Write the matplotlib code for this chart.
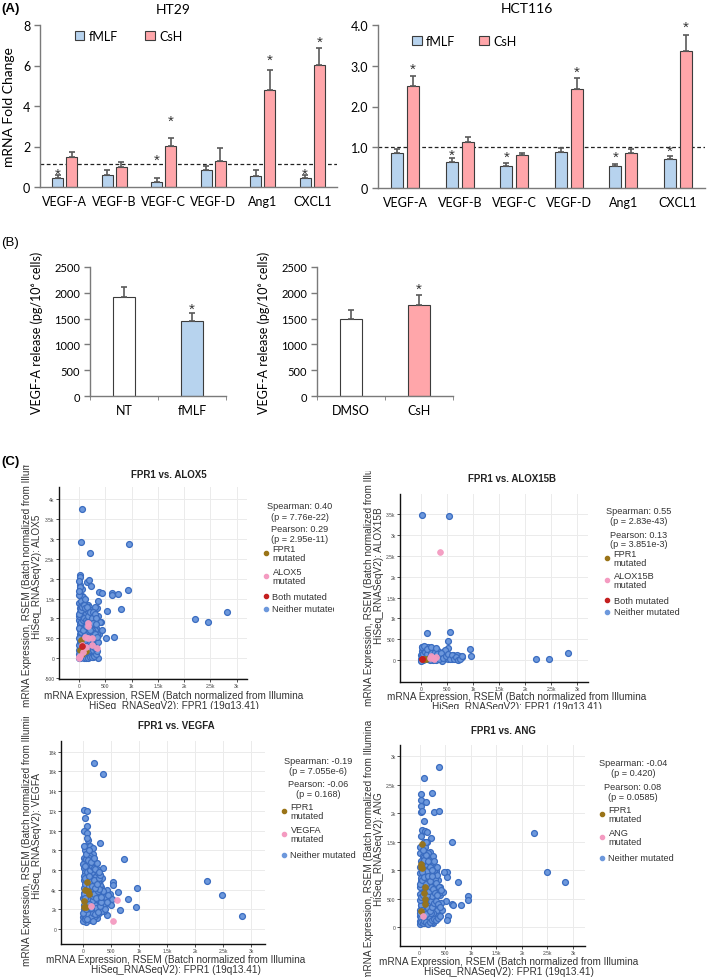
import matplotlib
matplotlib.use('Agg')
import matplotlib.pyplot as plt
from matplotlib.lines import Line2D
from matplotlib.transforms import Bbox, TransformedBbox
import numpy as np

# ---------------- DATA ----------------
genes = ['VEGF-A', 'VEGF-B', 'VEGF-C', 'VEGF-D', 'Ang1', 'CXCL1']
ht29_fmlf = [0.45, 0.60, 0.25, 0.82, 0.55, 0.42]
ht29_fmlf_err = [0.15, 0.25, 0.17, 0.20, 0.30, 0.15]
ht29_csh = [1.50, 1.00, 2.02, 1.28, 4.80, 6.02]
ht29_csh_err = [0.22, 0.22, 0.38, 0.65, 1.00, 0.85]
ht29_fmlf_star = [0.80, None, 1.48, None, None, 0.80]
ht29_csh_star = [None, None, 3.42, None, 6.45, 7.30]
ht29_ref = 1.15

hct_fmlf = [0.85, 0.65, 0.55, 0.88, 0.54, 0.72]
hct_fmlf_err = [0.10, 0.08, 0.07, 0.10, 0.06, 0.07]
hct_csh = [2.50, 1.12, 0.80, 2.42, 0.86, 3.35]
hct_csh_err = [0.25, 0.12, 0.06, 0.27, 0.10, 0.40]
hct_fmlf_star = [None, 0.885, 0.85, None, 0.85, 0.99]
hct_csh_star = [3.00, None, None, 2.93, None, 4.04]
hct_ref = 1.0

b1_cats = ['NT', 'fMLF']
b1_vals = [1920, 1460]
b1_err = [190, 150]
b1_star = [None, 1745]
b2_cats = ['DMSO', 'CsH']
b2_vals = [1490, 1770]
b2_err = [170, 180]
b2_star = [None, 2130]

# Scatter: FPR1 vs ALOX5
alox5_blue_x = [51, 38, 209, 950, 19, 19, 19, 20, 60, 146, 190, 228, 380, 431, 621, 621, 735, 938, 20, 50, 80,
                2205, 2459, 2807, 367, 526, 792, 665, 513, 177, 367,
                5, 10, 15, 25, 8, 30, 12, 40, 20, 55, 10, 35, 70, 18, 50, 90, 25, 60, 110, 15, 45, 130, 80, 30, 160,
                100, 55, 200, 20, 130, 75, 240, 40, 170, 100, 15, 280, 210, 250, 190, 150, 120, 230, 280, 300, 330,
                170, 110, 60, 140, 200, 260, 300, 90, 180, 45, 100, 350, 330, 380, 260, 220, 150, 80, 30, 420, 440,
                5, 25, 45, 65, 85, 105, 125, 145, 165, 185, 205, 225, 245, 265, 285, 305, 325, 345, 15, 35, 55, 75,
                95, 115, 135, 155, 175, 195, 215, 235, 255, 275, 295, 315, 5, 35, 65, 95, 125, 155, 185, 215, 245,
                275, 5, 40, 70, 110, 10, 0, 0, 360, 300, 400, 10, 0, 70, 150, 200, 260,
                0, 20, 50, 90, 130, 170, 210, 250, 290, 320, 340, 0, 30, 60, 90, 120, 150, 180, 210, 240, 270, 300,
                330, 355, 10, 40, 70, 100, 130, 160, 190, 220, 250, 280, 310, 340, 0, 30, 60, 90, 120, 150, 180, 210,
                240, 270, 300, 330, 5, 5, 110, 70, 200, 140, 260, 320]
alox5_blue_y = [3750, 2917, 2642, 2858, 2100, 2033, 1833, 1733, 1750, 1917, 1975, 1808, 1658, 1633, 1642, 1592, 1608, 1708, 1600, 1570, 1550,
                983, 900, 1167, 17, 1183, 1233, 542, 500, 1350, 1433,
                1400, 1250, 1150, 1050, 950, 880, 820, 760, 700, 650, 600, 560, 520, 480, 430, 400, 380, 350, 330, 300, 280, 260, 240, 220, 210,
                180, 160, 150, 140, 120, 100, 90, 70, 60, 40, 30, 120, 300, 420, 520, 600, 700, 640, 560, 380, 280,
                820, 900, 1000, 1050, 980, 1100, 1000, 1200, 1150, 1320, 1380, 1250, 760, 620, 780, 880, 460, 620, 480, 900, 700,
                200, 150, 60, 250, 320, 90, 400, 160, 280, 380, 220, 480, 330, 200, 420, 560, 460, 620, 560, 650, 740, 820,
                880, 560, 640, 720, 660, 760, 820, 720, 660, 860, 700, 900, 1050, 1100, 1150, 1080, 1130, 1200, 1280, 1050, 1200,
                1000, 1600, 1450, 1350, 1500, 1800, 1700, 1950, 1060, 1300, 900, 400, 100, 40, 30, 60, 20,
                0, 10, 25, 5, 15, 0, 20, 40, 60, 100, 180, 330, 420, 470, 540, 590, 530, 460, 410, 360, 310, 250,
                350, 420, 860, 920, 960, 1020, 960, 910, 860, 780, 720, 640, 600, 540, 1120, 1200, 1280, 1330, 1260, 1300, 1060, 1150,
                1000, 1160, 1100, 1000, 500, 750, 460, 700, 700, 800, 880, 860]
alox5_brown_x = [32, 19, 114, 51, 133]
alox5_brown_y = [458, 200, 200, 117, 175]
alox5_pink_x = [6, 177, 170, 114, 177, 241, 336, 241, 51, 133, 82, 6, 19]
alox5_pink_y = [17, 875, 800, 542, 508, 500, 267, 325, 333, 291, 167, 42, 50]
alox5_red_x = [51]
alox5_red_y = [317]

# Scatter: FPR1 vs ALOX15B
alox15b_blue_x = [13, 532, 128, 558, 526, 513, 942, 955, 13, 96, 237, 430, 2212, 2468, 2833, 782,
                  0, 20, 40, 60, 80, 100, 120, 140, 160, 180, 200, 220, 240, 260, 280, 300, 320, 340, 360, 380, 400, 420,
                  450, 480, 500, 530, 560, 600, 640, 680, 720, 760, 30, 10, 50, 70, 150, 190, 260, 330, 110, 175, 290,
                  410, 5, 90, 130, 470, 620, 700,
                  15, 45, 75, 115, 155, 195, 235, 275, 315, 355, 395, 435, 475, 515, 555, 595, 635, 675, 715, 755, 795,
                  25, 65, 115, 205, 300]
alox15b_blue_y = [3483, 3452, 643, 667, 460, 302, 262, 112, 310, 310, 207, 207, 31, 31, 167, 88,
                  20, 60, 10, 120, 40, 180, 20, 90, 150, 30, 70, 200, 10, 110, 50, 160, 20, 80, 130, 30, 60, 100,
                  20, 150, 70, 30, 110, 40, 90, 20, 60, 100, 230, 120, 300, 250, 250, 280, 240, 230, 60, 5, 0,
                  -10, -20, 280, 310, 240, 120, 130,
                  90, 150, 200, 140, 50, 180, 120, 190, 140, 40, 170, 60, 90, 160, 40, 130, 30, 80, 10, 40, 110,
                  320, 330, 280, 320, 300]
alox15b_brown_x = [100, 60]
alox15b_brown_y = [30, 40]
alox15b_pink_x = [372, 240, 260, 200, 180, 290]
alox15b_pink_y = [2579, 60, 30, 100, 50, 80]
alox15b_red_x = [13, 30]
alox15b_red_y = [20, 40]

# Scatter: FPR1 vs VEGFA
vegfa_blue_x = [196, 363, 18, 77, 36, 77, 18, 80, 89, 70, 36, 125, 179, 304, 184, 738, 351, 304, 542, 542, 631, 958,
                798, 946, 661, 423, 2220, 2476, 2833,
                10, 40, 20, 60, 100, 15, 80, 140, 30, 200, 110, 50, 250, 170, 10, 90, 300, 220, 140, 40, 330, 270, 180,
                100, 20, 350, 240, 150, 60, 300, 200, 120, 30, 380, 260, 170, 80, 330, 10, 220, 130, 50, 290, 180, 90,
                20, 250, 150, 60, 400, 450, 480, 430, 380, 200, 120, 60, 250, 160, 350, 500, 520,
                5, 25, 45, 65, 85, 105, 125, 145, 165, 185, 205, 225, 245, 265, 285, 305, 325, 15, 35, 55, 75, 95,
                115, 135, 155, 175, 195, 215, 235, 255, 275, 295, 315, 335, 5, 25, 45, 65, 85, 105, 125, 145, 165,
                185, 205, 225, 245, 275, 340, 365, 395, 420, 455, 30, 100, 160,
                0, 30, 60, 90, 120, 150, 180, 210, 240, 270, 300, 330, 0, 20, 50, 80, 110, 140, 170, 200, 230, 260,
                290, 320, 10, 40, 70, 100, 130, 160, 190, 220, 250, 280, 310, 10, 40, 70, 100, 130, 160, 190, 220, 250,
                280, 0, 30, 60, 90, 150, 200, 50, 20, 110, 80, 170]
vegfa_blue_y = [16820, 15700, 12110, 12010, 11240, 10490, 9920, 9750, 9070, 9250, 8390, 8460, 8220, 8730, 7610, 7100, 6160, 5490, 4800, 4470, 3790, 4130,
                3050, 2230, 1930, 1420, 4870, 3480, 1290,
                7200, 7000, 6700, 6500, 6800, 6200, 6000, 6300, 5800, 5900, 5600, 5400, 5300, 5200, 5000, 4900, 5000, 4700, 4500, 4400, 4300, 4100, 4000,
                3800, 3700, 3600, 3500, 3300, 3200, 3100, 2900, 2700, 2600, 2800, 2500, 2300, 2100, 2200, 2000, 1900, 1700, 1500, 1600, 1300, 1100,
                900, 1100, 900, 750, 3300, 2600, 3600, 4000, 1800, 6600, 7400, 7800, 6100, 1000, 2400, 2400, 3000,
                1200, 1400, 1800, 2200, 2600, 3000, 3400, 3800, 4200, 4600, 5000, 5400, 5800, 2000, 2700, 3500, 4000, 4200, 4600, 5000, 5600, 6200,
                6600, 7000, 5800, 3600, 3200, 2400, 1400, 3000, 3800, 4500, 2800, 1800, 3100, 3400, 2800, 1700, 1300, 1900, 2300, 1500, 2800,
                1700, 1200, 3800, 4400, 4800, 5200, 3900, 2000, 2700, 3500, 8000, 7200, 7000,
                800, 1000, 1200, 1500, 900, 1200, 1600, 1500, 2100, 1700, 2300, 2700, 1600, 2400, 2000, 3000, 2500, 2100, 3400, 3600, 3100, 3900,
                4100, 3300, 3600, 3200, 4000, 4400, 4800, 4400, 5000, 4200, 4600, 5200, 5500, 5400, 5200, 5800, 5400, 6000, 6400, 6200, 6100, 6700,
                5800, 6600, 6400, 7100, 7000, 6800, 7200, 7600, 8400, 8000, 1000, 800]
vegfa_brown_x = [65, 40, 90, 110, 18, 18, 55]
vegfa_brown_y = [4800, 3990, 3900, 3550, 2880, 2270, 2270]
vegfa_pink_x = [137, 613, 542]
vegfa_pink_y = [2340, 2980, 810]

# Scatter: FPR1 vs ANG
ang_blue_x = [382, 86, 33, 244, 33, 132, 33, 20, 40, 283, 375, 79, 50, 100, 150, 231, 152, 626, 2240, 2484, 2846, 745,
              527, 527, 468, 316, 955, 955, 810, 626, 660, 507, 547, 527, 263, 79,
              10, 60, 120, 200, 30, 250, 90, 160, 10, 300, 60, 200, 130, 20, 260, 350, 90, 180, 40, 300, 150, 230, 10,
              80, 400, 190, 120, 40, 300, 250, 160, 20, 90, 220, 350, 130, 60, 280, 180, 10, 100, 240, 150, 50, 320,
              420, 380, 450, 40, 110, 200,
              5, 25, 45, 65, 85, 105, 125, 145, 165, 185, 205, 225, 245, 265, 285, 305, 325, 345, 365, 385, 405, 15,
              35, 55, 75, 95, 115, 135, 155, 175, 195, 215, 235, 255, 275, 295, 315, 335, 5, 25, 45, 65, 85, 105, 125,
              145, 165, 185, 205, 225, 245, 10, 80, 30, 160, 260,
              0, 30, 60, 90, 120, 160, 200, 240, 280, 320, 360, 400, 440, 0, 40, 80, 120, 160, 200, 240, 280, 320, 360,
              400, 20, 60, 100, 140, 180, 220, 260, 300, 340, 380, 420, 10, 50, 90, 130, 170, 210, 250, 290, 330, 0,
              40, 80, 120, 160, 200, 240, 280, 10, 60, 130]
ang_blue_y = [2800, 2620, 2333, 2350, 2233, 2200, 2126, 2023, 2040, 2012, 2040, 1865, 1700, 1690, 1670, 1556, 1486, 1486, 1644, 970, 784, 784,
              960, 872, 960, 980, 538, 480, 386, 403, 390, 461, 188, 120, 70, 65,
              1300, 1250, 1200, 1180, 1150, 1100, 1050, 1000, 950, 950, 900, 880, 850, 800, 800, 820, 750, 720, 680, 680, 640, 600, 580,
              560, 560, 520, 480, 450, 470, 420, 400, 380, 350, 330, 340, 300, 260, 280, 230, 200, 180, 160, 120, 120, 200,
              420, 250, 620, 1000, 1400, 1320,
              100, 150, 220, 320, 420, 520, 620, 720, 820, 920, 1020, 1120, 1220, 700, 600, 500, 400, 300, 200, 600, 700, 300,
              380, 480, 680, 780, 880, 980, 1080, 1180, 380, 460, 540, 250, 380, 850, 780, 920, 700, 860, 960, 1100, 1220, 1320, 1100,
              280, 180, 100, 150, 240, 80, 480, 1500, 1600, 1300, 1250,
              60, 90, 70, 110, 80, 60, 90, 120, 140, 120, 160, 200, 300, 250, 300, 270, 230, 330, 280, 350, 420, 450, 400,
              350, 520, 560, 620, 560, 640, 700, 660, 600, 560, 700, 650, 760, 820, 880, 760, 900, 800, 900, 1000, 1050, 1050,
              1120, 1180, 1270, 1150, 1060, 1000, 1150, 1400, 1350, 1500]
ang_brown_x = [46, 33, 33, 40, 112, 79, 99, 99, 33]
ang_brown_y = [1451, 1105, 1060, 1030, 707, 596, 491, 404, 286]
ang_pink_x = [66]
ang_pink_y = [198]

# ---------------- STYLE ----------------
BLUE = '#b7d3ee'
PINK = '#ffa6aa'
EDGE = '#3c3c3c'
ERRC = '#5a5a5a'
AXC = '#7a7a7a'
SC_BLUE_F = '#6d98dc'
SC_BLUE_E = '#3a6cc0'
SC_BROWN = '#9a7418'
SC_PINK = '#f49bc1'
SC_RED = '#c41f1f'
XLFONT = 'Lato'
SCFONT = 'Liberation Sans'

W, H = 709, 978
fig = plt.figure(figsize=(W / 100, H / 100), dpi=100)


def add_ax(l, t, r, b):
    return fig.add_axes([l / W, 1 - b / H, (r - l) / W, (b - t) / H])


def ft(x, y, s, **kw):
    return fig.text(x / W, 1 - y / H, s, **kw)


def clip_to(artist, l, t, r, b):
    bb = TransformedBbox(Bbox.from_extents(l / W, 1 - b / H, r / W, 1 - t / H), fig.transFigure)
    artist.set_clip_box(bb)
    artist.set_clip_on(True)


def star(ax, x, y):
    ax.annotate('*', (x, y), xytext=(0, -5.0), textcoords='offset points', ha='center', va='baseline',
                fontsize=11, family=SCFONT, color='#333333', annotation_clip=False)


def style_excel(ax):
    for s in ['top', 'right']:
        ax.spines[s].set_visible(False)
    for s in ['left', 'bottom']:
        ax.spines[s].set_color(AXC)
        ax.spines[s].set_linewidth(1.0)
    ax.tick_params(axis='y', direction='out', length=4, color=AXC, width=1.0, pad=3)
    ax.tick_params(axis='x', length=0, pad=6)


def bar_panel(ax, f, fe, fs, c, ce, cs, ylim, yt, ytl, ref, legpos, colsp):
    x = np.arange(len(genes))
    w, off = 0.225, 0.145
    ax.bar(x - off, f, w, color=BLUE, edgecolor=EDGE, linewidth=0.8, zorder=2, label='fMLF')
    ax.bar(x + off, c, w, color=PINK, edgecolor=EDGE, linewidth=0.8, zorder=2, label='CsH')
    z = np.zeros(len(genes))
    ax.errorbar(x - off, f, yerr=[z, fe], fmt='none', ecolor=ERRC, elinewidth=1.2, capsize=2.3, capthick=1.2, zorder=3)
    ax.errorbar(x + off, c, yerr=[z, ce], fmt='none', ecolor=ERRC, elinewidth=1.2, capsize=2.3, capthick=1.2, zorder=3)
    for i in range(len(genes)):
        if fs[i] is not None:
            star(ax, x[i] - off, fs[i])
        if cs[i] is not None:
            star(ax, x[i] + off, cs[i])
    ax.axhline(ref, color='#222', lw=0.9, ls=(0, (3, 2)), zorder=1)
    ax.set_xlim(-0.5, len(genes) - 0.5)
    ax.set_ylim(*ylim)
    ax.set_yticks(yt)
    ax.set_yticklabels(ytl, fontsize=9, family=XLFONT)
    ax.set_xticks(x)
    ax.set_xticklabels(genes, fontsize=9, family=XLFONT)
    style_excel(ax)
    ax.legend(loc='upper left', bbox_to_anchor=legpos, ncol=2, frameon=False, handlelength=0.75,
              handleheight=0.75, handletextpad=0.35, columnspacing=colsp, borderaxespad=0,
              prop={'family': XLFONT, 'size': 9})


# ---------------- PANEL A ----------------
axA1 = add_ax(40, 26, 337, 188)
bar_panel(axA1, ht29_fmlf, ht29_fmlf_err, ht29_fmlf_star, ht29_csh, ht29_csh_err, ht29_csh_star,
          (0, 8), [0, 2, 4, 6, 8], ['0', '2', '4', '6', '8'], ht29_ref, (0.1, 1.0), 2.2)
axA1.set_ylabel('mRNA Fold Change', fontsize=10, family=XLFONT, labelpad=6)

axA2 = add_ax(378, 26, 705, 189)
bar_panel(axA2, hct_fmlf, hct_fmlf_err, hct_fmlf_star, hct_csh, hct_csh_err, hct_csh_star,
          (0, 4), [0, 1, 2, 3, 4], ['0', '1.0', '2.0', '3.0', '4.0'], hct_ref, (0.09, 0.97), 1.9)

ft(173, 10, 'HT29', ha='center', va='center', fontsize=10, family=XLFONT)
ft(527, 9, 'HCT116', ha='center', va='center', fontsize=10, family=XLFONT)
ft(1, 9, '(A)', ha='left', va='center', fontsize=9.5, fontweight='bold', family=SCFONT)


# ---------------- PANEL B ----------------
def b_panel(ax, cats, vals, err, stars, color):
    x = np.arange(len(cats))
    ax.bar(x, vals, 0.31, color=['white', color], edgecolor=EDGE, linewidth=0.8, zorder=2)
    ax.errorbar(x, vals, yerr=[np.zeros(len(x)), err], fmt='none', ecolor=ERRC, elinewidth=1.2,
                capsize=2.3, capthick=1.2, zorder=3)
    for i in range(len(x)):
        if stars[i] is not None:
            star(ax, x[i], stars[i])
    ax.set_xlim(-0.5, len(x) - 0.5)
    ax.set_ylim(0, 2500)
    ax.set_yticks([0, 500, 1000, 1500, 2000, 2500])
    ax.set_yticklabels(['0', '500', '1000', '1500', '2000', '2500'], fontsize=8, family=XLFONT)
    ax.set_xticks(x)
    ax.set_xticklabels(cats, fontsize=9, family=XLFONT)
    style_excel(ax)
    ax.set_xticks([-0.5, 0.5, 1.5], minor=True)
    ax.tick_params(axis='x', which='minor', direction='out', length=3, color=AXC)
    ax.set_ylabel('VEGF-A release (pg/10⁶ cells)', fontsize=9, family=[XLFONT, 'DejaVu Sans'], labelpad=8)


axB1 = add_ax(90, 268, 226, 397)
b_panel(axB1, b1_cats, b1_vals, b1_err, b1_star, BLUE)
axB2 = add_ax(317, 268, 453, 397)
b_panel(axB2, b2_cats, b2_vals, b2_err, b2_star, PINK)
ft(1, 243, '(B)', ha='left', va='center', fontsize=9.5, family=SCFONT)

# ---------------- PANEL C ----------------
xt = [0, 500, 1000, 1500, 2000, 2500, 3000]
xtl = ['0', '500', '1k', '1.5k', '2k', '2.5k', '3k']
XL = 'mRNA Expression, RSEM (Batch normalized from Illumina\nHiSeq_RNASeqV2): FPR1 (19q13.41)'


def sc_panel(box, xlim, ylim, yt, ytl, blue, others, title, tpos, ylab, ylpos, yclip, xlab_pos, xclip,
             stats, stat_pos, legend_items, leg_x, clipr):
    l, t, r, b = box
    ax = add_ax(l, t, r, b)
    ax.set_xlim(*xlim)
    ax.set_ylim(*ylim)
    ax.set_xticks(xt)
    ax.set_xticklabels(xtl, fontsize=3.6, family=SCFONT, color='#444')
    ax.set_yticks(yt)
    ax.set_yticklabels(ytl, fontsize=3.6, family=SCFONT, color='#444')
    ax.grid(True, color='#ebebeb', lw=0.7)
    ax.set_axisbelow(True)
    for s in ['top', 'right']:
        ax.spines[s].set_visible(False)
    for s in ['left', 'bottom']:
        ax.spines[s].set_color('#111')
        ax.spines[s].set_linewidth(1.0)
    ax.tick_params(length=2, width=0.6, pad=1.2, color='#333')
    ax.scatter(blue[0], blue[1], s=18, facecolor=SC_BLUE_F, edgecolor=SC_BLUE_E, linewidth=0.9, zorder=2)
    for (xs, ys, col) in others:
        ax.scatter(xs, ys, s=17, facecolor=col, edgecolor=col, linewidth=0.6, alpha=0.95, zorder=3)
    ft(tpos[0], tpos[1], title, ha='center', va='center', fontsize=7, fontweight='bold', family=SCFONT, color='#222')
    yl = ft(ylpos[0], ylpos[1], 'mRNA Expression, RSEM (Batch normalized from Illumina\nHiSeq_RNASeqV2): ' + ylab,
            rotation=90, ha='center', va='center', fontsize=7.2, family=SCFONT, color='#333', linespacing=1.0,
            multialignment='center')
    clip_to(yl, 0, yclip[0], W, yclip[1])
    xl = ft(xlab_pos[0], xlab_pos[1], XL, ha='center', va='center', fontsize=7.2, family=SCFONT, color='#333',
            linespacing=1.0, multialignment='center')
    clip_to(xl, 0, 0, W, xclip)
    for (txt, yy) in zip(stats, stat_pos[1]):
        ft(stat_pos[0], yy, txt, ha='center', va='center', fontsize=6.6, family=SCFONT, color='#333')
    for (txt, yy, col) in legend_items:
        fig.add_artist(Line2D([leg_x / W], [1 - yy / H], marker='o', markersize=3, color=col,
                              markeredgecolor=col, transform=fig.transFigure, lw=0))
        tt = ft(leg_x + 6.5, yy, txt, ha='left', va='center', fontsize=6.6, family=SCFONT, color='#333',
                linespacing=0.95)
        clip_to(tt, 0, 0, clipr, H)
    return ax


sc_panel((59, 488, 247, 680), (-380, 3194), (-520, 4300),
         [-500, 0, 500, 1000, 1500, 2000, 2500, 3000, 3500, 4000],
         ['-500', '0', '500', '1k', '1.5k', '2k', '2.5k', '3k', '3.5k', '4k'],
         (alox5_blue_x, alox5_blue_y),
         [(alox5_brown_x, alox5_brown_y, SC_BROWN), (alox5_pink_x, alox5_pink_y, SC_PINK),
          (alox5_red_x, alox5_red_y, SC_RED)],
         'FPR1 vs. ALOX5', (169, 475), 'ALOX5', (32, 577), (466, 711), (174, 701), 710,
         ['Spearman: 0.40', '(p = 7.76e-22)', 'Pearson: 0.29', '(p = 2.95e-11)'], (300, [507, 517, 529, 539]),
         [('FPR1\nmutated', 554, SC_BROWN), ('ALOX5\nmutated', 577, SC_PINK),
          ('Both mutated', 597, SC_RED), ('Neither mutated', 610, SC_BLUE_F)], 266, 334)

sc_panel((400, 495, 588, 683), (-400, 3211), (-520, 3976),
         [0, 500, 1000, 1500, 2000, 2500, 3000, 3500],
         ['0', '500', '1k', '1.5k', '2k', '2.5k', '3k', '3.5k'],
         (alox15b_blue_x, alox15b_blue_y),
         [(alox15b_brown_x, alox15b_brown_y, SC_BROWN), (alox15b_pink_x, alox15b_pink_y, SC_PINK),
          (alox15b_red_x, alox15b_red_y, SC_RED)],
         'FPR1 vs. ALOX15B', (512, 479), 'ALOX15B', (374, 576), (472, 711), (517, 702), 710,
         ['Spearman: 0.55', '(p = 2.83e-43)', 'Pearson: 0.13', '(p = 3.851e-3)'], (639, [512, 522, 535, 545]),
         [('FPR1\nmutated', 559, SC_BROWN), ('ALOX15B\nmutated', 581, SC_PINK),
          ('Both mutated', 601, SC_RED), ('Neither mutated', 613, SC_BLUE_F)], 607, W)

sc_panel((61, 742, 265, 945), (-393, 3250), (-1520, 19090),
         [0, 2000, 4000, 6000, 8000, 10000, 12000, 14000, 16000, 18000],
         ['0', '2k', '4k', '6k', '8k', '10k', '12k', '14k', '16k', '18k'],
         (vegfa_blue_x, vegfa_blue_y),
         [(vegfa_brown_x, vegfa_brown_y, SC_BROWN), (vegfa_pink_x, vegfa_pink_y, SC_PINK)],
         'FPR1 vs. VEGFA', (176, 726), 'VEGFA', (32, 836), (718, H), (176, 965), H,
         ['Spearman: -0.19', '(p = 7.055e-6)', 'Pearson: -0.06', '(p = 0.168)'], (318, [761, 772, 785, 795]),
         [('FPR1\nmutated', 812, SC_BROWN), ('VEGFA\nmutated', 835, SC_PINK),
          ('Neither mutated', 856, SC_BLUE_F)], 284, W)

sc_panel((400, 746, 585, 947), (-385, 3235), (-333, 3193),
         [0, 500, 1000, 1500, 2000, 2500, 3000],
         ['0', '500', '1k', '1.5k', '2k', '2.5k', '3k'],
         (ang_blue_x, ang_blue_y),
         [(ang_brown_x, ang_brown_y, SC_BROWN), (ang_pink_x, ang_pink_y, SC_PINK)],
         'FPR1 vs. ANG', (503, 731), 'ANG', (374, 849), (722, H), (509, 967), H,
         ['Spearman: -0.04', '(p = 0.420)', 'Pearson: 0.08', '(p = 0.0585)'], (633, [764, 774, 787, 797]),
         [('FPR1\nmutated', 815, SC_BROWN), ('ANG\nmutated', 838, SC_PINK),
          ('Neither mutated', 859, SC_BLUE_F)], 602, W)

ft(1, 462, '(C)', ha='left', va='center', fontsize=9.5, fontweight='bold', family=SCFONT)

fig.savefig('out.png', dpi=100)
